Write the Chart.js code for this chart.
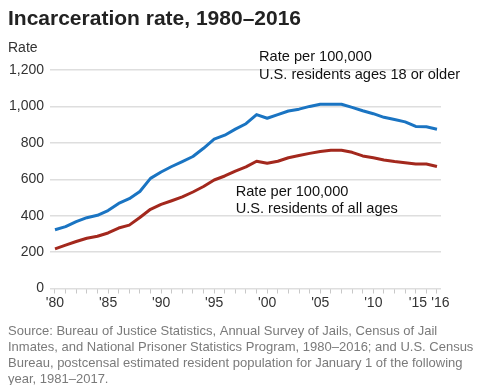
<!DOCTYPE html>
<html>
<head>
<meta charset="utf-8">
<script src="https://cdn.jsdelivr.net/npm/chart.js@4/dist/chart.umd.min.js"></script>
<style>
  html, body { margin:0; padding:0; background:#fff; }
</style>
</head>
<body>
<canvas id="chart" width="486" height="385"></canvas>
<script>
// ==========================
// DATA
// ==========================
const years = [1980,1981,1982,1983,1984,1985,1986,1987,1988,1989,
               1990,1991,1992,1993,1994,1995,1996,1997,1998,1999,
               2000,2001,2002,2003,2004,2005,2006,2007,2008,2009,
               2010,2011,2012,2013,2014,2015,2016];

// rate per 100,000 U.S. residents ages 18 or older
const adultRate = [323,340,367,389,402,428,467,493,533,605,
                   640,670,697,725,770,820,842,875,905,955,
                   935,955,975,985,1000,1012,1012,1012,995,976,
                   960,940,928,915,890,888,875];

// rate per 100,000 U.S. residents of all ages
const allAgesRate = [218,238,258,276,287,305,332,348,390,435,
                     462,482,503,530,560,596,618,645,668,699,
                     688,699,718,730,742,752,759,759,748,728,
                     718,706,697,690,684,684,670];

const yTicks = [0,200,400,600,800,1000,1200];
const labeledYears = [1980,1985,1990,1995,2000,2005,2010,2015,2016];

const title = "Incarceration rate, 1980–2016";
const yTitle = "Rate";
const notes = [
  {year:1999.23, rate:1247, lines:["Rate per 100,000","U.S. residents ages 18 or older"]},
  {year:1997.03, rate:509,  lines:["Rate per 100,000","U.S. residents of all ages"]}
];
const sourceLines = [
  "Source: Bureau of Justice Statistics, Annual Survey of Jails, Census of Jail",
  "Inmates, and National Prisoner Statistics Program, 1980–2016; and U.S. Census",
  "Bureau, postcensal estimated resident population for January 1 of the following",
  "year, 1981–2017."
];

// ==========================
// STYLE
// ==========================
const FONT = '"Liberation Sans", Arial, Helvetica, sans-serif';
const BLUE = "#1a74c2";
const RED = "#a3281d";

// ==========================
// TEXT PLUGIN (title, notes, source)
// ==========================
const textPlugin = {
  id: "texts",
  afterDraw(chart){
    const ctx = chart.ctx;
    const xs = chart.scales.x, ys = chart.scales.y;
    ctx.save();
    ctx.textAlign = "left";
    ctx.textBaseline = "alphabetic";

    ctx.fillStyle = "#222";
    ctx.font = "bold 21px " + FONT;
    ctx.fillText(title, 8, 25);

    ctx.fillStyle = "#333";
    ctx.font = "14px " + FONT;
    ctx.fillText(yTitle, 8, 52);

    ctx.fillStyle = "#111";
    ctx.font = "14.6px " + FONT;
    notes.forEach(n=>{
      const x = xs.getPixelForValue(n.year);
      const y = ys.getPixelForValue(n.rate);
      n.lines.forEach((t,i)=>ctx.fillText(t, x, y + i*17.5));
    });

    ctx.fillStyle = "#7a7a7a";
    ctx.font = "13px " + FONT;
    sourceLines.forEach((t,i)=>ctx.fillText(t, 8, 335 + i*16));
    ctx.restore();
  }
};

// ==========================
// CHART
// ==========================
function shortYear(v){
  const s = "'" + String(v).slice(2);
  if(v === 2015) return s + "\u2003\u2009";
  if(v === 2016) return "\u2002" + s;
  return s;
}

new Chart(document.getElementById("chart"), {
  type: "line",
  data: {
    datasets: [
      {label:"Ages 18 or older", data: years.map((y,i)=>({x:y, y:adultRate[i]})),
       borderColor: BLUE, borderWidth: 3, pointRadius: 0, borderJoinStyle: "round"},
      {label:"All ages", data: years.map((y,i)=>({x:y, y:allAgesRate[i]})),
       borderColor: RED, borderWidth: 3, pointRadius: 0, borderJoinStyle: "round"}
    ]
  },
  options: {
    responsive: false,
    animation: false,
    events: [],
    layout: { padding: {left: 8, right: 45, top: 70, bottom: 72.5} },
    plugins: { legend: {display:false}, tooltip: {enabled:false}, title: {display:false} },
    scales: {
      x: {
        type: "linear",
        min: 1979.53, max: 2016.38,
        afterBuildTicks: s => { s.ticks = years.map(v=>({value:v})); },
        afterFit: s => { s.height = 24; },
        border: {display:false},
        grid: {drawOnChartArea:false, drawTicks:true, tickLength:5, color:"#c8c8c8", lineWidth:1},
        ticks: {
          autoSkip:false, maxRotation:0, padding:1, color:"#333",
          font:{family:FONT, size:14},
          callback: v => labeledYears.includes(v) ? shortYear(v) : ""
        }
      },
      y: {
        min: 0, max: 1200,
        afterBuildTicks: s => { s.ticks = yTicks.map(v=>({value:v})); },
        afterFit: s => { s.width = 42; },
        border: {display:false},
        grid: {color:"#dedede", lineWidth:1.5, drawTicks:false},
        ticks: {
          padding: 6, color:"#333",
          font:{family:FONT, size:14},
          callback: v => v.toLocaleString("en-US")
        }
      }
    }
  },
  plugins: [textPlugin]
});
</script>
</body>
</html>
